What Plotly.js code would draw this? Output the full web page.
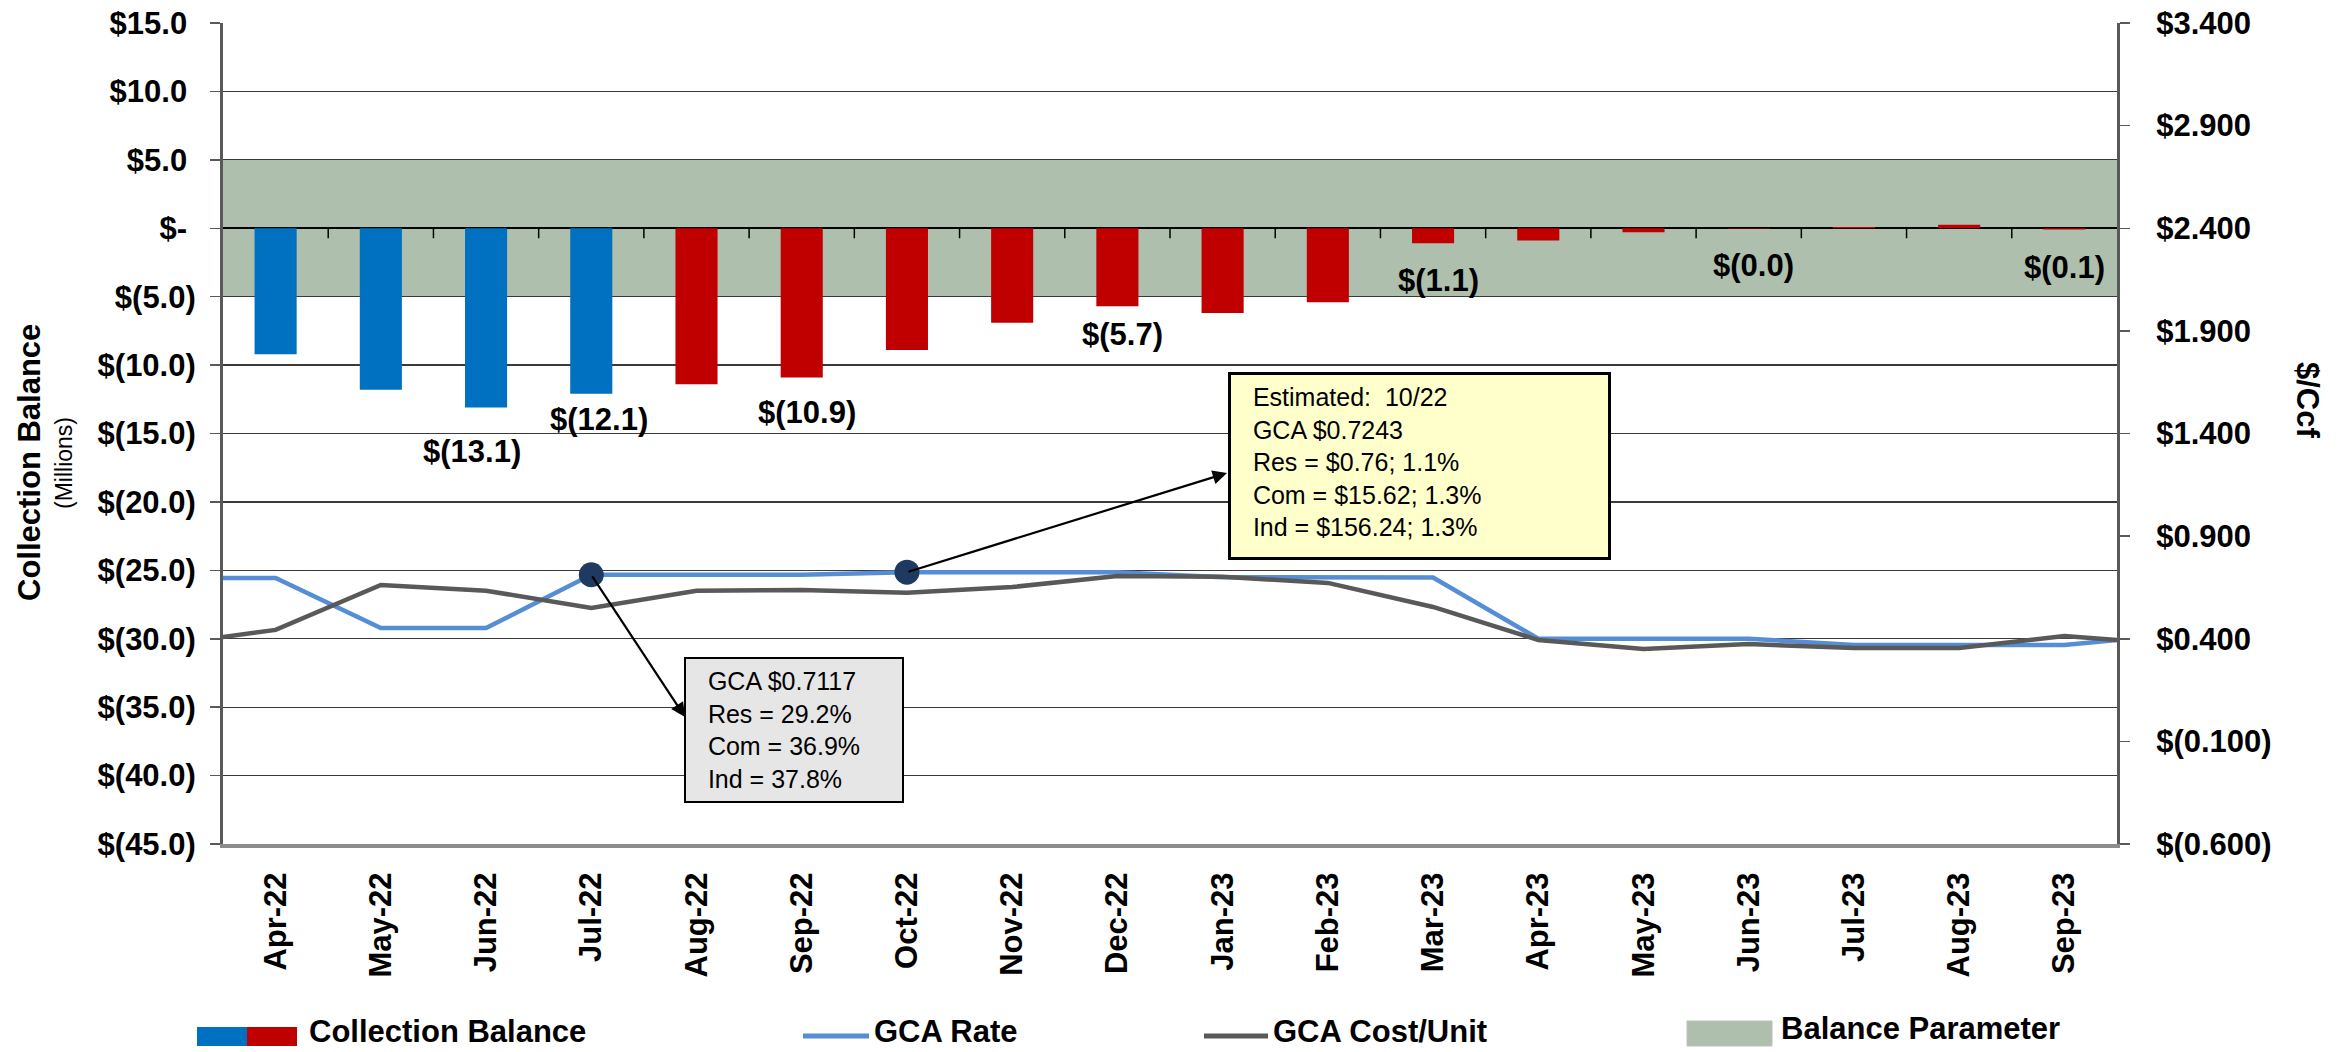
<!DOCTYPE html>
<html>
<head>
<meta charset="utf-8">
<script src="https://cdn.plot.ly/plotly-3.0.1.min.js"></script>
<style>html,body{margin:0;padding:0;background:#fff;}</style>
</head>
<body>
<div id="chart" style="width:2351px;height:1052px;"></div>
<script>
// ---------------- DATA ----------------
const months = ['Apr-22','May-22','Jun-22','Jul-22','Aug-22','Sep-22','Oct-22','Nov-22','Dec-22',
                'Jan-23','Feb-23','Mar-23','Apr-23','May-23','Jun-23','Jul-23','Aug-23','Sep-23'];
// Collection balance ($ millions)
const collectionBalance = [-9.2,-11.8,-13.1,-12.1,-11.4,-10.9,-8.9,-6.9,-5.7,
                           -6.2,-5.4,-1.1,-0.9,-0.3,-0.04,0.1,0.25,-0.1];
// line series include the neighbouring months that are only partly visible at the plot edges
const lineMonths = ['Mar-22'].concat(months, ['Oct-23']);
const gcaRate = [0.696,0.696,0.452,0.452,0.7117,0.7117,0.7117,0.7243,0.7243,0.7243,
                 0.700,0.698,0.698,0.400,0.400,0.400,0.370,0.370,0.370,0.418];
const gcaCostPerUnit = [0.374,0.443,0.662,0.634,0.550,0.634,0.638,0.624,0.652,0.706,
                        0.702,0.672,0.555,0.394,0.350,0.374,0.355,0.355,0.413,0.374];
const markerMonths = ['Jul-22','Oct-22'];
const markerRates = [0.7117,0.7243];
const balanceParameter = [-5, 5];
const estimatedFrom = 'Aug-22';
const labelMonths = ['Jun-22','Jul-22','Sep-22','Dec-22','Mar-23','Jun-23','Sep-23'];
const labelTexts = ['$(13.1)','$(12.1)','$(10.9)','$(5.7)','$(1.1)','$(0.0)','$(0.1)'];
const leftTickVals = [15,10,5,0,-5,-10,-15,-20,-25,-30,-35,-40,-45];
const leftTickText = ['$15.0','$10.0','$5.0','$-','$(5.0)','$(10.0)','$(15.0)','$(20.0)','$(25.0)','$(30.0)','$(35.0)','$(40.0)','$(45.0)'];
const rightTickVals = [3.4,2.9,2.4,1.9,1.4,0.9,0.4,-0.1,-0.6];
const rightTickText = ['$3.400','$2.900','$2.400','$1.900','$1.400','$0.900','$0.400','$(0.100)','$(0.600)'];
const noteActual = ['GCA $0.7117','Res = 29.2%','Com = 36.9%','Ind = 37.8%'];
const noteEstimated = ['Estimated:\u00a0 10/22','GCA $0.7243','Res = $0.76; 1.1%','Com = $15.62; 1.3%','Ind = $156.24; 1.3%'];
const legendNames = ['Collection Balance','GCA Rate','GCA Cost/Unit','Balance Parameter'];
const leftTitle = 'Collection Balance';
const leftSubTitle = '(Millions)';
const rightTitle = '$/Ccf';

// ---------------- STYLE / LAYOUT ----------------
const W = 2351, H = 1052;
const M = {l:223, r:234, t:23, b:208};
const PW = W - M.l - M.r, PH = H - M.t - M.b;
const FONT = 'Liberation Sans, Arial, Helvetica, sans-serif';
const BLUE = '#0070C0', RED = '#C00000', RATE = '#558ED5', COST = '#595959';
const BAND = '#AEBFAD', NAVY = '#1F3A60';
const X_RANGE = [0.5, 18.5], Y2_RANGE = [-0.6, 3.4];

const px = X => (X - M.l) / PW;               // pixel -> paper x
const py = Y => 1 - (Y - M.t) / PH;           // pixel -> paper y
const cx = X => X_RANGE[0] + (X - M.l) / PW * (X_RANGE[1] - X_RANGE[0]); // pixel -> category coord
const cy2 = Y => Y2_RANGE[1] - (Y - M.t) / PH * (Y2_RANGE[1] - Y2_RANGE[0]); // pixel -> y2 value

const nb = '\u00a0';
const estIdx = months.indexOf(estimatedFrom);
const barColors = months.map((m, i) => i < estIdx ? BLUE : RED);

const traces = [
  {type:'bar', x:months, y:collectionBalance, yaxis:'y', marker:{color:barColors, line:{width:0}},
   hoverinfo:'skip', name:legendNames[0]},
  {type:'scatter', mode:'lines', x:lineMonths, y:gcaRate, yaxis:'y2',
   line:{color:RATE, width:4.5}, hoverinfo:'skip', name:legendNames[1]},
  {type:'scatter', mode:'lines', x:lineMonths, y:gcaCostPerUnit, yaxis:'y2',
   line:{color:COST, width:4.5}, hoverinfo:'skip', name:legendNames[2]},
  {type:'scatter', mode:'markers', x:markerMonths, y:markerRates, yaxis:'y2',
   marker:{color:NAVY, size:25, line:{width:0}}, hoverinfo:'skip', showlegend:false}
];

const tickFont = {family:FONT, size:31, weight:700, color:'#000'};

const shapes = [
  {type:'rect', xref:'paper', x0:0, x1:1, yref:'y', y0:balanceParameter[0], y1:balanceParameter[1],
   fillcolor:BAND, line:{width:0}, layer:'below'}
];
// category-axis tick marks along the zero line
for (let k = 1; k < months.length; k++) {
  const b = k + 0.5;
  shapes.push({type:'line', xref:'x', yref:'y', x0:b, x1:b, ysizemode:'pixel', yanchor:0, y0:0, y1:-10,
               line:{color:'#000', width:1.5}, layer:'above'});
}
// legend
const LY = 1036;
shapes.push({type:'rect', xref:'paper', yref:'paper', x0:px(197), x1:px(247), y0:py(1046), y1:py(1027), fillcolor:BLUE, line:{width:0}});
shapes.push({type:'rect', xref:'paper', yref:'paper', x0:px(247), x1:px(297), y0:py(1046), y1:py(1027), fillcolor:RED, line:{width:0}});
shapes.push({type:'line', xref:'paper', yref:'paper', x0:px(803), x1:px(869), y0:py(LY), y1:py(LY), line:{color:RATE, width:5}});
shapes.push({type:'line', xref:'paper', yref:'paper', x0:px(1204), x1:px(1268), y0:py(LY), y1:py(LY), line:{color:COST, width:5}});
shapes.push({type:'rect', xref:'paper', yref:'paper', x0:px(1687), x1:px(1772), y0:py(1046), y1:py(1021), fillcolor:BAND, line:{color:'#bfbfbf', width:1}});

const annotations = [];
// data labels
const labelDX = [-14, 8, 5, 5, 5, 5, 0];
const labelDY = [-44, -26, -35, -28, -37, -37, -38];
labelMonths.forEach((m, i) => {
  annotations.push({xref:'x', yref:'y', x:m, y:collectionBalance[months.indexOf(m)], text:labelTexts[i],
    showarrow:false, xanchor:'center', yanchor:'middle', xshift:labelDX[i], yshift:labelDY[i],
    font:{family:FONT, size:31, weight:700, color:'#000'}});
});
// note boxes
annotations.push({xref:'paper', yref:'paper', x:px(684), y:py(657), xanchor:'left', yanchor:'top',
  text:noteActual.map(s => nb + nb + s).join('<br>'), align:'left', showarrow:false, width:200,
  bgcolor:'#E6E6E6', bordercolor:'#000', borderwidth:2, borderpad:8,
  font:{family:FONT, size:25, color:'#000'}});
annotations.push({xref:'paper', yref:'paper', x:px(1228), y:py(372), xanchor:'left', yanchor:'top',
  text:noteEstimated.map(s => nb + nb + s).join('<br>'), align:'left', valign:'top', showarrow:false,
  width:361, height:166, bgcolor:'#FFFFCC', bordercolor:'#000', borderwidth:3, borderpad:8,
  font:{family:FONT, size:25, color:'#000'}});
// arrows from the markers to the boxes
const arrowHeads = [[685, 717], [1227, 473]];
markerMonths.forEach((m, i) => {
  annotations.push({xref:'x', yref:'y2', axref:'x', ayref:'y2',
    x:cx(arrowHeads[i][0]), y:cy2(arrowHeads[i][1]),
    ax:lineMonths.indexOf(m), ay:markerRates[i],
    text:'', showarrow:true, arrowhead:2, arrowsize:1.3, arrowwidth:2.2, arrowcolor:'#000', standoff:0});
});
// axis titles
annotations.push({xref:'paper', yref:'paper', x:px(29), y:py(463), text:leftTitle, textangle:-90, showarrow:false,
  xanchor:'center', yanchor:'middle', font:{family:FONT, size:31, weight:700, color:'#000'}});
annotations.push({xref:'paper', yref:'paper', x:px(64), y:py(463), text:leftSubTitle, textangle:-90, showarrow:false,
  xanchor:'center', yanchor:'middle', font:{family:FONT, size:23, color:'#000'}});
annotations.push({xref:'paper', yref:'paper', x:px(2308), y:py(400), text:rightTitle, textangle:90, showarrow:false,
  xanchor:'center', yanchor:'middle', font:{family:FONT, size:31, weight:700, color:'#000'}});
// legend texts
const legendX = [308, 873, 1272, 1780];
const legendY = [1031, 1031, 1031, 1028];
legendNames.forEach((n, i) => {
  annotations.push({xref:'paper', yref:'paper', x:px(legendX[i]), y:py(legendY[i]), text:n, showarrow:false,
    xanchor:'left', yanchor:'middle', borderpad:0, font:{family:FONT, size:31, weight:700, color:'#000'}});
});

const layout = {
  width:W, height:H, autosize:false,
  margin:{l:M.l, r:M.r, t:M.t, b:M.b, pad:0},
  paper_bgcolor:'#fff', plot_bgcolor:'rgba(0,0,0,0)',
  showlegend:false, bargap:0.6,
  xaxis:{type:'category', categoryorder:'array', categoryarray:lineMonths, range:X_RANGE,
    tickmode:'array', tickvals:months, ticktext:months, tickangle:-90, tickfont:tickFont,
    showline:true, linecolor:'#8c8c8c', linewidth:4, ticks:'', showgrid:false, zeroline:false,
    ticklabelstandoff:12, automargin:false, fixedrange:true},
  yaxis:{range:[-45,15], tickmode:'array', tickvals:leftTickVals,
    ticktext:leftTickText.map(t => t.endsWith(')') ? t : t + nb), tickfont:tickFont,
    showline:true, linecolor:'#595959', linewidth:3, ticks:'outside', ticklen:10, tickwidth:1.5, tickcolor:'#595959',
    showgrid:true, gridcolor:'#3a3a3a', gridwidth:1.3, zeroline:true, zerolinecolor:'#000', zerolinewidth:1.8,
    ticklabelstandoff:8, automargin:false, fixedrange:true},
  yaxis2:{overlaying:'y', side:'right', anchor:'x', range:Y2_RANGE, tickmode:'array', tickvals:rightTickVals,
    ticktext:rightTickText, tickfont:tickFont,
    showline:true, linecolor:'#595959', linewidth:3, ticks:'outside', ticklen:10, tickwidth:1.5, tickcolor:'#595959',
    showgrid:false, zeroline:false, ticklabelstandoff:20, automargin:false, fixedrange:true},
  shapes:shapes,
  annotations:annotations
};

Plotly.newPlot('chart', traces, layout, {displayModeBar:false, staticPlot:true});
</script>
</body>
</html>
